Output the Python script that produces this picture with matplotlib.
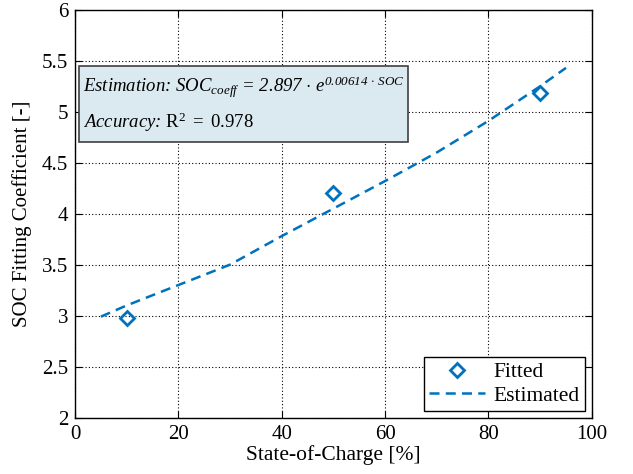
import matplotlib
matplotlib.use("Agg")
import matplotlib.pyplot as plt

plt.rcParams["font.family"] = ["Liberation Serif", "DejaVu Serif"]
plt.rcParams["mathtext.fontset"] = "custom"
plt.rcParams["mathtext.rm"] = "Liberation Serif"
plt.rcParams["mathtext.it"] = "Liberation Serif:italic"
plt.rcParams["mathtext.sf"] = "Liberation Serif:italic"

# fitted coefficients at three SOC points
soc_fitted = [10, 50, 90]
coeff_fitted = [2.98, 4.20, 5.18]

# estimated curve
soc_est = [5, 10, 20, 25, 30, 40, 50, 60, 70, 80, 90, 95]
coeff_est = [2.99, 3.10, 3.30, 3.40, 3.50, 3.78, 4.05, 4.32, 4.60, 4.91, 5.25, 5.43]

blue = "#0072BD"

fig = plt.figure(figsize=(6.33, 4.74), dpi=100)
ax = fig.add_axes([0.1185, 0.119, 0.8165, 0.8605])

ax.plot(soc_fitted, coeff_fitted, linestyle="none", marker="D", markersize=7,
        markerfacecolor="none", markeredgecolor=blue, markeredgewidth=2, label="Fitted")
ax.plot(soc_est, coeff_est, linestyle="--", color=blue, lw=1.8, dashes=(4, 2.5),
        label="Estimated")

ax.set_xlim(0, 100)
ax.set_ylim(2, 6)
ax.set_xticks(range(0, 101, 20))
ax.set_yticks([2, 2.5, 3, 3.5, 4, 4.5, 5, 5.5, 6])
ax.set_yticklabels(["2", "2.5", "3", "3.5", "4", "4.5", "5", "5.5", "6"])
ax.tick_params(direction="in", top=True, right=True, labelsize=15, length=5, pad=5)
ax.grid(True, linestyle=(0, (1, 2)), color="black", lw=0.8)
for s in ax.spines.values():
    s.set_linewidth(1.0)

ax.set_xlabel("State-of-Charge [%]", fontsize=15.5, labelpad=1)
ax.set_ylabel("SOC Fitting Coefficient [-]", fontsize=15, labelpad=7)

# annotation box
box = plt.Rectangle((0.8, 4.70), 63.6, 0.75, facecolor="#daeaf0",
                    edgecolor="#404040", lw=1.2, zorder=3)
ax.add_patch(box)
ax.text(1.6, 5.24,
        r"Estimation: SOC$_{coeff}$ = 2.897 $\cdot$ e$^{\mathsf{0.00614}\,\cdot\, SOC}$",
        fontsize=13.5, style="italic", va="center", ha="left", zorder=4)
ax.text(1.6, 4.90, r"Accuracy: $\mathrm{R}^2\ =\ 0.978$",
        fontsize=13.5, style="italic", va="center", ha="left", zorder=4)

leg = ax.legend(loc="lower right", fontsize=15.5, fancybox=False, framealpha=1,
                edgecolor="black", borderaxespad=0.3, handlelength=2.6,
                borderpad=0.25, labelspacing=0.15, handletextpad=0.4)
leg.get_frame().set_linewidth(1.0)

fig.savefig("out.png", dpi=100)
